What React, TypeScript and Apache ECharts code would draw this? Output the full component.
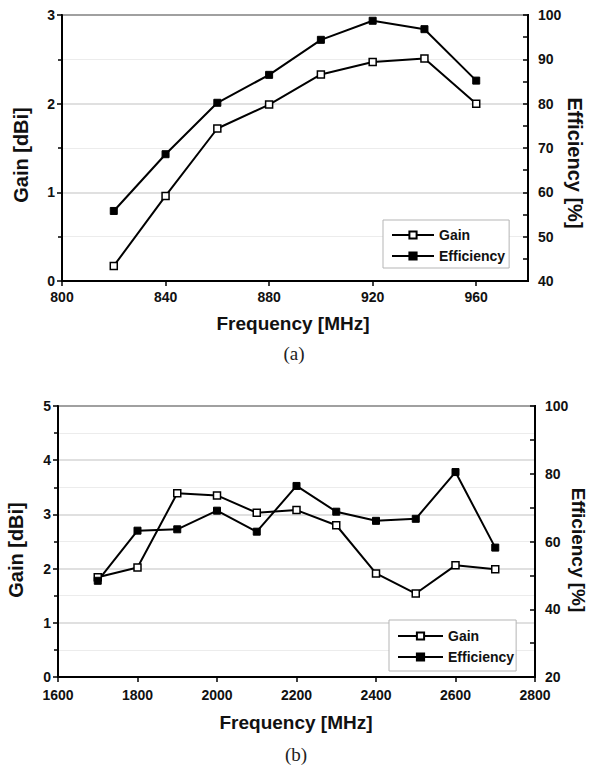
import React, { useEffect, useRef } from 'react';
import * as echarts from 'echarts';

const freqA = [820, 840, 860, 880, 900, 920, 940, 960];
const gainA = [0.17, 0.96, 1.72, 1.99, 2.33, 2.47, 2.51, 2.0];
const effA = [55.8, 68.6, 80.2, 86.5, 94.4, 98.7, 96.8, 85.2];
const ticksA = [800, 840, 880, 920, 960];

const freqB = [1700, 1800, 1900, 2000, 2100, 2200, 2300, 2400, 2500, 2600, 2700];
const gainB = [1.84, 2.02, 3.39, 3.35, 3.03, 3.08, 2.8, 1.91, 1.54, 2.06, 1.99];
const effB = [48.4, 63.2, 63.6, 69.1, 62.9, 76.4, 68.8, 66.1, 66.7, 80.5, 58.2];

const legendNames = ['Gain', 'Efficiency'];

const FONT = '"Liberation Sans", Arial, sans-serif';
const zip = (xs: number[], ys: number[]) => xs.map((x, i) => [x, ys[i]]);
const plain = (v: number) => String(v);

const labelStyle = { color: '#111', fontSize: 14, fontWeight: 'bold' as const, fontFamily: FONT };
const axisLine = { show: true, onZero: false, lineStyle: { color: '#000', width: 2 } };

export default function App() {
  const ref = useRef<HTMLDivElement>(null);
  useEffect(() => {
    document.body.style.margin = '0';
    const chart = echarts.init(ref.current!, null, { renderer: 'svg' });
    const gainStyle = {
      type: 'line' as const,
      symbol: 'rect',
      symbolSize: 7,
      lineStyle: { color: '#000', width: 2 },
      itemStyle: { color: '#fff', borderColor: '#000', borderWidth: 1.5 },
    };
    const effStyle = {
      type: 'line' as const,
      symbol: 'rect',
      symbolSize: 7,
      lineStyle: { color: '#000', width: 2 },
      itemStyle: { color: '#000', borderColor: '#000', borderWidth: 1 },
    };
    const leftY = (max: number, gridIndex: number) => ({
      type: 'value' as const,
      gridIndex,
      position: 'left' as const,
      min: 0,
      max,
      interval: 1,
      axisLine,
      axisTick: { show: true, inside: false, length: 5, lineStyle: { color: '#000', width: 1.5 } },
      minorTick: { show: true, splitNumber: 2, length: 4, lineStyle: { color: '#000', width: 1.5 } },
      axisLabel: { ...labelStyle, margin: 7, formatter: plain },
      splitLine: { show: true, lineStyle: { color: '#d6d6d6', width: 1.5 } },
      minorSplitLine: { show: true, lineStyle: { color: '#ececec', width: 1 } },
    });
    const rightY = (min: number, interval: number, gridIndex: number) => ({
      type: 'value' as const,
      gridIndex,
      position: 'right' as const,
      min,
      max: 100,
      interval,
      axisLine,
      axisTick: { show: true, inside: true, length: 5, lineStyle: { color: '#000', width: 1.5 } },
      minorTick: { show: true, splitNumber: 2, length: 5, lineStyle: { color: '#000', width: 1.5 } },
      axisLabel: { ...labelStyle, margin: 10, formatter: plain },
      splitLine: { show: false },
    });
    const legend = (left: number, top: number, itemWidth: number, padding: number[]) => ({
      orient: 'vertical' as const,
      left,
      top,
      data: legendNames,
      itemWidth,
      itemHeight: 9,
      itemGap: 5,
      padding,
      borderColor: '#b5b5b5',
      borderWidth: 1,
      backgroundColor: '#fff',
      textStyle: { ...labelStyle, lineHeight: 16, padding: [0, 0, 0, 0] },
      selectedMode: false,
    });
    const nameText = (text: string, x: number, y: number, rotation: number, size = 20) => ({
      type: 'text' as const,
      x,
      y,
      rotation,
      style: {
        text,
        fill: '#111',
        font: `bold ${size}px ${FONT}`,
        align: 'center',
        verticalAlign: 'middle',
      },
    });
    const capText = (text: string, x: number, y: number) => ({
      type: 'text' as const,
      x,
      y,
      style: {
        text,
        fill: '#222',
        font: `19px "Liberation Serif", "Times New Roman", serif`,
        align: 'center',
        verticalAlign: 'middle',
      },
    });

    chart.setOption({
      animation: false,
      backgroundColor: '#fff',
      textStyle: { fontFamily: FONT },
      grid: [
        { left: 62, top: 15, width: 466, height: 266, show: true, borderColor: '#000', borderWidth: 2, backgroundColor: 'transparent' },
        { left: 58, top: 406, width: 477, height: 271, show: true, borderColor: '#000', borderWidth: 2, backgroundColor: 'transparent' },
      ],
      xAxis: [
        {
          type: 'value',
          gridIndex: 0,
          min: 800,
          max: 980,
          interval: 40,
          axisLine,
          axisTick: { show: true, length: 5, customValues: ticksA, lineStyle: { color: '#000', width: 1.5 } },
          axisLabel: { ...labelStyle, margin: 9, customValues: ticksA, formatter: plain },
          splitLine: { show: false },
        },
        {
          type: 'value',
          gridIndex: 1,
          min: 1600,
          max: 2800,
          interval: 200,
          axisLine,
          axisTick: { show: true, length: 5, lineStyle: { color: '#000', width: 1.5 } },
          axisLabel: { ...labelStyle, margin: 11, formatter: plain },
          splitLine: { show: false },
        },
      ],
      yAxis: [leftY(3, 0), rightY(40, 10, 0), leftY(5, 1), rightY(20, 20, 1)],
      legend: [legend(383, 220, 42, [7, 4, 4, 8]), legend(389, 620, 45, [8, 2, 6, 8])],
      series: [
        { ...gainStyle, name: 'Gain', xAxisIndex: 0, yAxisIndex: 0, data: zip(freqA, gainA), z: 3 },
        { ...effStyle, name: 'Efficiency', xAxisIndex: 0, yAxisIndex: 1, data: zip(freqA, effA), z: 3 },
        { ...gainStyle, name: 'Gain', xAxisIndex: 1, yAxisIndex: 2, data: zip(freqB, gainB), z: 3 },
        { ...effStyle, name: 'Efficiency', xAxisIndex: 1, yAxisIndex: 3, data: zip(freqB, effB), z: 3 },
      ],
      graphic: [
        nameText('Gain [dBi]', 21, 155, Math.PI / 2),
        nameText('Efficiency [%]', 575, 163, -Math.PI / 2),
        nameText('Frequency [MHz]', 293, 323, 0, 19),
        capText('(a)', 294, 353),
        nameText('Gain [dBi]', 16, 550, Math.PI / 2),
        nameText('Efficiency [%]', 578, 550, -Math.PI / 2, 19),
        nameText('Frequency [MHz]', 296, 722, 0, 19),
        capText('(b)', 296, 754),
      ],
    });
    return () => chart.dispose();
  }, []);
  return <div ref={ref} style={{ width: 590, height: 769 }} />;
}
